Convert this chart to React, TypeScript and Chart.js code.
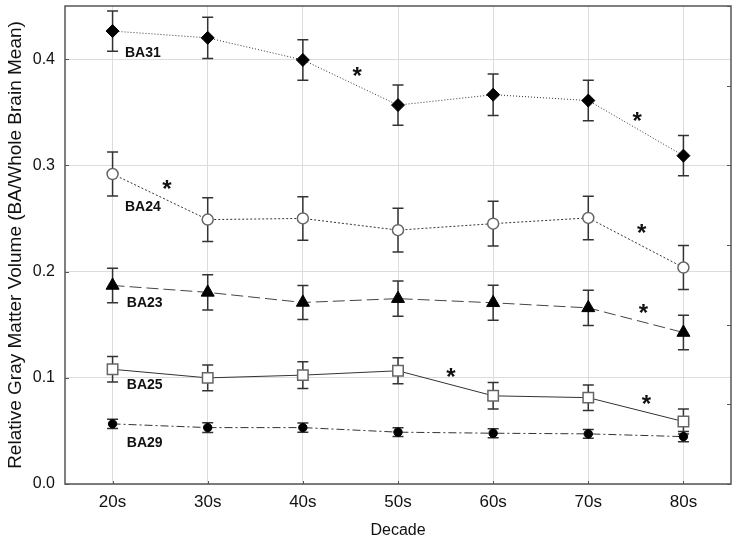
import React, { useEffect, useRef } from "react";
import { Chart, registerables } from "chart.js";

Chart.register(...registerables);

const decades = ["20s", "30s", "40s", "50s", "60s", "70s", "80s"];

const ba31 = [0.4264, 0.42, 0.3992, 0.3567, 0.3665, 0.361, 0.3091];
const ba24 = [0.2918, 0.2489, 0.25, 0.239, 0.2451, 0.2505, 0.2038];
const ba23 = [0.1869, 0.1804, 0.1709, 0.1745, 0.1706, 0.1658, 0.1426];
const ba25 = [0.108, 0.0999, 0.1025, 0.1066, 0.083, 0.0813, 0.0588];
const ba29 = [0.0566, 0.0531, 0.0531, 0.0488, 0.0478, 0.0472, 0.0446];

const err31 = [0.019, 0.0195, 0.019, 0.019, 0.0195, 0.019, 0.019];
const err24 = [0.0207, 0.0206, 0.0205, 0.0205, 0.021, 0.0205, 0.0207];
const err23 = [0.0163, 0.0166, 0.016, 0.0165, 0.0165, 0.0165, 0.0162];
const err25 = [0.012, 0.0122, 0.0125, 0.0123, 0.0125, 0.012, 0.0117];
const err29 = [0.0043, 0.0045, 0.0043, 0.0042, 0.0043, 0.0042, 0.0048];

const yTicks = [0, 0.1, 0.2, 0.3, 0.4];

const regionNames = ["BA31", "BA24", "BA23", "BA25", "BA29"];
const regionLabelX = [0.13, 0.13, 0.15, 0.15, 0.15];
const regionLabelY = [0.4057, 0.261, 0.1704, 0.0934, 0.0384];

const starX = [2.57, 0.57, 5.515, 5.56, 5.58, 3.557, 5.61];
const starY = [0.389, 0.2827, 0.3465, 0.2412, 0.1657, 0.1054, 0.0799];

const errors = [err31, err24, err23, err25, err29];

const FONT = "Arial, 'Liberation Sans', sans-serif";

const errorBarPlugin = {
  id: "errorBars",
  beforeDatasetsDraw(chart: any) {
    const ctx = chart.ctx;
    const x = chart.scales.x;
    const y = chart.scales.y;
    ctx.save();
    ctx.strokeStyle = "#333";
    ctx.lineWidth = 1.5;
    chart.data.datasets.forEach((ds: any, di: number) => {
      const err = errors[di];
      ds.data.forEach((v: number, i: number) => {
        const px = x.getPixelForValue(i);
        const top = y.getPixelForValue(v + err[i]);
        const bot = y.getPixelForValue(v - err[i]);
        const cap = 5.5;
        ctx.beginPath();
        ctx.moveTo(px, top);
        ctx.lineTo(px, bot);
        ctx.moveTo(px - cap, top);
        ctx.lineTo(px + cap, top);
        ctx.moveTo(px - cap, bot);
        ctx.lineTo(px + cap, bot);
        ctx.stroke();
      });
    });
    ctx.restore();
  },
};

const framePlugin = {
  id: "frame",
  afterDraw(chart: any) {
    const ctx = chart.ctx;
    const a = chart.chartArea;
    const x = chart.scales.x;
    const y = chart.scales.y;
    const y2 = chart.scales.y2;
    ctx.save();
    ctx.strokeStyle = "#555";
    ctx.lineWidth = 1;
    y2.ticks.forEach((t: any) => {
      const py = Math.round(y2.getPixelForValue(t.value)) + 0.5;
      ctx.beginPath();
      ctx.moveTo(a.right - 4, py);
      ctx.lineTo(a.right, py);
      ctx.stroke();
    });
    y.ticks.forEach((t: any) => {
      const py = Math.round(y.getPixelForValue(t.value)) + 0.5;
      ctx.beginPath();
      ctx.moveTo(a.left, py);
      ctx.lineTo(a.left + 4, py);
      ctx.stroke();
    });
    decades.forEach((_, i) => {
      const px = Math.round(x.getPixelForValue(i)) + 0.5;
      ctx.beginPath();
      ctx.moveTo(px, a.bottom);
      ctx.lineTo(px, a.bottom - 3);
      ctx.stroke();
    });
    ctx.strokeStyle = "#555";
    ctx.lineWidth = 1.5;
    ctx.strokeRect(a.left, a.top, a.right - a.left, a.bottom - a.top);
    ctx.fillStyle = "#111";
    ctx.font = "bold 14px " + FONT;
    ctx.textAlign = "left";
    ctx.textBaseline = "middle";
    regionNames.forEach((n, i) => {
      ctx.fillText(n, x.getPixelForValue(regionLabelX[i]), y.getPixelForValue(regionLabelY[i]));
    });
    ctx.font = "bold 24px " + FONT;
    ctx.textAlign = "center";
    ctx.textBaseline = "alphabetic";
    starX.forEach((sx, i) => {
      ctx.fillText("*", x.getPixelForValue(sx), y.getPixelForValue(starY[i]) + 13);
    });
    ctx.restore();
  },
};

export default function App() {
  const ref = useRef<HTMLCanvasElement>(null);
  useEffect(() => {
    if (!ref.current) return;
    const chart = new Chart(ref.current, {
      type: "line",
      data: {
        labels: decades,
        datasets: [
          {
            label: "BA31",
            data: ba31,
            borderColor: "#333",
            borderWidth: 1,
            borderDash: [1, 2],
            pointStyle: "rectRot",
            pointRadius: 6.5,
            pointBackgroundColor: "#000",
            pointBorderColor: "#000",
            pointBorderWidth: 1,
          },
          {
            label: "BA24",
            data: ba24,
            borderColor: "#333",
            borderWidth: 1,
            borderDash: [2, 2],
            pointStyle: "circle",
            pointRadius: 5.5,
            pointBackgroundColor: "#fff",
            pointBorderColor: "#666",
            pointBorderWidth: 1.5,
          },
          {
            label: "BA23",
            data: ba23,
            borderColor: "#444",
            borderWidth: 1,
            borderDash: [12, 5],
            pointStyle: "triangle",
            pointRadius: 7.5,
            pointBackgroundColor: "#000",
            pointBorderColor: "#000",
            pointBorderWidth: 1,
          },
          {
            label: "BA25",
            data: ba25,
            borderColor: "#333",
            borderWidth: 1,
            pointStyle: "rect",
            pointRadius: 7.4,
            pointBackgroundColor: "#fff",
            pointBorderColor: "#666",
            pointBorderWidth: 1.5,
          },
          {
            label: "BA29",
            data: ba29,
            borderColor: "#333",
            borderWidth: 1,
            borderDash: [8, 3, 2, 3],
            pointStyle: "circle",
            pointRadius: 4.2,
            pointBackgroundColor: "#000",
            pointBorderColor: "#000",
            pointBorderWidth: 1,
          },
        ],
      },
      options: {
        animation: false,
        responsive: false,
        devicePixelRatio: 1,
        layout: { autoPadding: false, padding: { top: 6, right: 6, left: 0, bottom: 0 } },
        plugins: { legend: { display: false }, tooltip: { enabled: false } },
        elements: { line: { tension: 0 } },
        scales: {
          x: {
            type: "category",
            offset: true,
            grid: { color: "#dcdcdc", drawTicks: false, lineWidth: 1 },
            border: { display: false },
            ticks: { color: "#111", font: { family: FONT, size: 17 }, padding: 8 },
            title: {
              display: true,
              text: "Decade",
              color: "#111",
              font: { family: FONT, size: 16 },
              padding: { top: 0, bottom: 1 },
            },
            afterFit: (s: any) => {
              s.height = 57;
              s.paddingLeft = 0;
              s.paddingRight = 0;
            },
          },
          y: {
            min: 0,
            max: 0.45,
            afterBuildTicks: (s: any) => {
              s.ticks = yTicks.map((v) => ({ value: v }));
            },
            grid: { color: "#dcdcdc", drawTicks: false, lineWidth: 1 },
            border: { display: false },
            ticks: {
              color: "#111",
              font: { family: FONT, size: 16 },
              padding: 10,
              callback: (v: any) => Number(v).toFixed(1),
            },
            title: {
              display: true,
              text: "Relative Gray Matter Volume (BA/Whole Brain Mean)",
              color: "#111",
              font: { family: FONT, size: 19 },
              padding: { top: 4, bottom: 0 },
            },
            afterFit: (s: any) => {
              s.width = 65;
              s.paddingTop = 0;
              s.paddingBottom = 0;
            },
          },
          y2: {
            position: "right",
            min: 0,
            max: 6,
            ticks: { display: false, stepSize: 1 },
            grid: { drawOnChartArea: false, drawTicks: false },
            border: { display: false },
            afterFit: (s: any) => {
              s.width = 0;
              s.paddingTop = 0;
              s.paddingBottom = 0;
            },
          },
        },
      },
      plugins: [errorBarPlugin, framePlugin],
    });
    return () => chart.destroy();
  }, []);
  return (
    <div style={{ position: "absolute", left: 0, top: 0, width: 737, height: 541, background: "#fff" }}>
      <canvas ref={ref} width={737} height={541} />
    </div>
  );
}
